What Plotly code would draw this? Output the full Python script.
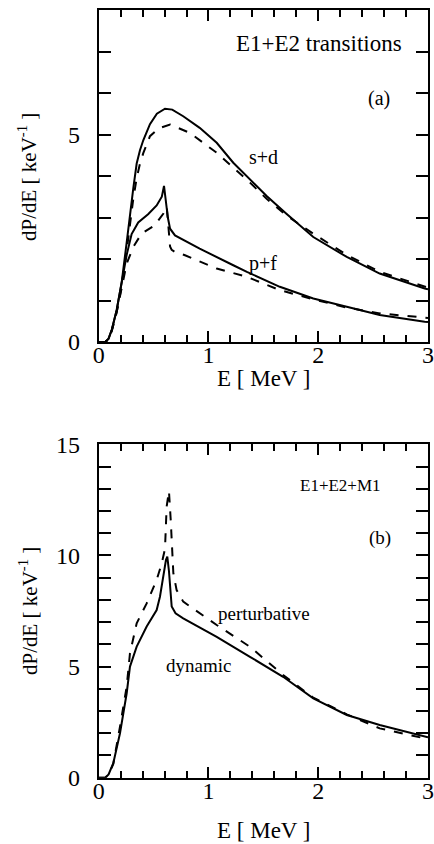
import plotly.graph_objects as go

# ---- Panel (a): E1+E2 transitions ----
E_sd_solid = [0.0, 0.06, 0.09, 0.12, 0.164, 0.21, 0.255, 0.285, 0.315, 0.346, 0.376, 0.406, 0.437, 0.467, 0.53, 0.604, 0.67, 0.77, 0.92, 1.075, 1.226, 1.378, 1.53, 1.71, 1.955, 2.26, 2.56, 2.97, 3.0]
P_sd_solid = [0.0, 0.0, 0.08, 0.30, 0.77, 1.45, 2.40, 3.10, 3.70, 4.30, 4.62, 4.86, 5.08, 5.25, 5.50, 5.62, 5.60, 5.44, 5.16, 4.80, 4.32, 3.93, 3.52, 3.09, 2.53, 2.05, 1.65, 1.29, 1.27]

E_sd_dash = [0.0, 0.06, 0.09, 0.12, 0.164, 0.21, 0.255, 0.285, 0.315, 0.346, 0.376, 0.406, 0.437, 0.467, 0.55, 0.65, 0.83, 1.075, 1.226, 1.378, 1.53, 1.71, 1.955, 2.26, 2.56, 2.97, 3.0]
P_sd_dash = [0.0, 0.0, 0.07, 0.28, 0.72, 1.35, 2.20, 2.90, 3.45, 3.95, 4.30, 4.55, 4.78, 4.96, 5.15, 5.24, 5.04, 4.56, 4.20, 3.84, 3.45, 3.05, 2.61, 2.10, 1.69, 1.33, 1.31]

E_pf_solid = [0.0, 0.06, 0.09, 0.12, 0.164, 0.21, 0.255, 0.30, 0.36, 0.45, 0.528, 0.575, 0.595, 0.63, 0.65, 0.695, 0.92, 1.226, 1.35, 1.65, 1.955, 2.26, 2.56, 2.97, 3.0]
P_pf_solid = [0.0, 0.0, 0.08, 0.30, 0.77, 1.45, 2.10, 2.60, 2.88, 3.08, 3.29, 3.50, 3.76, 3.00, 2.73, 2.57, 2.25, 1.85, 1.69, 1.33, 1.05, 0.85, 0.65, 0.49, 0.48]

E_pf_dash = [0.0, 0.06, 0.09, 0.12, 0.164, 0.21, 0.255, 0.315, 0.39, 0.51, 0.588, 0.62, 0.65, 0.665, 0.695, 0.786, 1.075, 1.35, 1.65, 1.955, 2.26, 2.56, 2.97, 3.0]
P_pf_dash = [0.0, 0.0, 0.07, 0.28, 0.72, 1.30, 1.89, 2.29, 2.61, 2.81, 3.09, 3.26, 2.30, 2.22, 2.17, 2.09, 1.77, 1.57, 1.25, 1.03, 0.83, 0.69, 0.59, 0.58]

# ---- Panel (b): E1+E2+M1 ----
E_dyn = [0.0, 0.06, 0.09, 0.133, 0.194, 0.255, 0.285, 0.346, 0.437, 0.528, 0.558, 0.588, 0.613, 0.625, 0.64, 0.665, 0.70, 0.77, 1.075, 1.378, 1.68, 1.955, 2.26, 2.56, 2.97, 3.0]
P_dyn = [0.0, 0.0, 0.15, 0.65, 2.00, 3.80, 5.00, 5.90, 6.80, 7.54, 8.14, 9.04, 9.80, 9.95, 9.30, 7.70, 7.40, 7.17, 6.34, 5.44, 4.54, 3.57, 2.82, 2.37, 1.84, 1.82]

E_pert = [0.0, 0.06, 0.09, 0.133, 0.194, 0.255, 0.285, 0.346, 0.437, 0.528, 0.574, 0.604, 0.619, 0.64, 0.656, 0.68, 0.71, 0.77, 1.075, 1.378, 1.68, 1.955, 2.26, 2.56, 2.97, 3.0]
P_pert = [0.0, 0.0, 0.14, 0.62, 2.30, 4.10, 5.60, 6.95, 7.84, 8.90, 9.64, 10.3, 12.2, 12.9, 11.6, 9.20, 8.44, 7.92, 6.87, 5.89, 4.62, 3.60, 2.85, 2.22, 1.77, 1.74]

FONT = "Liberation Serif, Times New Roman, serif"
W, H = 434, 844

fig = go.Figure()
line_s = dict(color="black", width=2)
line_d = dict(color="black", width=2, dash="dash")
fig.add_trace(go.Scatter(x=E_sd_solid, y=P_sd_solid, mode="lines", line=line_s, xaxis="x", yaxis="y"))
fig.add_trace(go.Scatter(x=E_sd_dash, y=P_sd_dash, mode="lines", line=line_d, xaxis="x", yaxis="y"))
fig.add_trace(go.Scatter(x=E_pf_solid, y=P_pf_solid, mode="lines", line=line_s, xaxis="x", yaxis="y"))
fig.add_trace(go.Scatter(x=E_pf_dash, y=P_pf_dash, mode="lines", line=line_d, xaxis="x", yaxis="y"))
fig.add_trace(go.Scatter(x=E_dyn, y=P_dyn, mode="lines", line=line_s, xaxis="x2", yaxis="y2"))
fig.add_trace(go.Scatter(x=E_pert, y=P_pert, mode="lines", line=line_d, xaxis="x2", yaxis="y2"))

def px2x(px):
    return px / W

def py2y(py):
    return (H - py) / H

xdom = [px2x(98.7), px2x(428)]
ydom_a = [py2y(342), py2y(10)]
ydom_b = [py2y(777.7), py2y(444.3)]

xcommon = dict(range=[0, 3], dtick=1, tick0=0, ticks="inside", ticklen=11, tickwidth=1.5,
               tickcolor="black", showline=True, linecolor="black", linewidth=2, mirror="ticks",
               showgrid=False, zeroline=False, domain=xdom, automargin=False, ticklabelstandoff=-10,
               tickfont=dict(family=FONT, size=24, color="black"),
               minor=dict(dtick=0.2, ticks="inside", ticklen=7, tickwidth=1.5, tickcolor="black", showgrid=False))
ycommon = dict(dtick=5, tick0=0, ticks="inside", ticklen=12, tickwidth=1.5,
               tickcolor="black", showline=True, linecolor="black", linewidth=2, mirror="ticks",
               showgrid=False, zeroline=False, ticklabelstandoff=12, automargin=False,
               tickfont=dict(family=FONT, size=24, color="black"),
               minor=dict(dtick=1, ticks="inside", ticklen=12, tickwidth=1.5, tickcolor="black", showgrid=False))

fig.update_layout(
    width=W, height=H, margin=dict(l=0, r=0, t=0, b=0, autoexpand=False),
    paper_bgcolor="white", plot_bgcolor="white", showlegend=False,
    font=dict(family=FONT, color="black"),
    xaxis=dict(**xcommon, anchor="y"),
    yaxis=dict(**ycommon, range=[0, 8], domain=ydom_a, anchor="x"),
    xaxis2=dict(**xcommon, anchor="y2"),
    yaxis2=dict(**ycommon, range=[0, 15], domain=ydom_b, anchor="x2"),
)

def ann(text, px, py, size, angle=0):
    fig.add_annotation(text=text, x=px2x(px), y=py2y(py), xref="paper", yref="paper",
                       showarrow=False, textangle=angle, xanchor="center", yanchor="middle",
                       font=dict(family=FONT, size=size, color="black"))

# panel (a)
ann("E1+E2 transitions", 319, 44, 23)
ann("(a)", 379, 98, 20)
ann("s+d", 263, 157, 20)
ann("p+f", 263, 263, 20)
ann("E [ MeV ]", 263, 379, 23)
ann("dP/dE [ keV<sup>-1</sup> ]", 28, 177, 21, -90)

# panel (b)
ann("E1+E2+M1", 340, 485, 17)
ann("(b)", 380, 538, 19)
ann("perturbative", 264, 613, 19)
ann("dynamic", 198, 665, 19)
ann("E [ MeV ]", 263, 830, 23)
ann("dP/dE [ keV<sup>-1</sup> ]", 28, 611, 21, -90)

fig.write_html("out.html")
